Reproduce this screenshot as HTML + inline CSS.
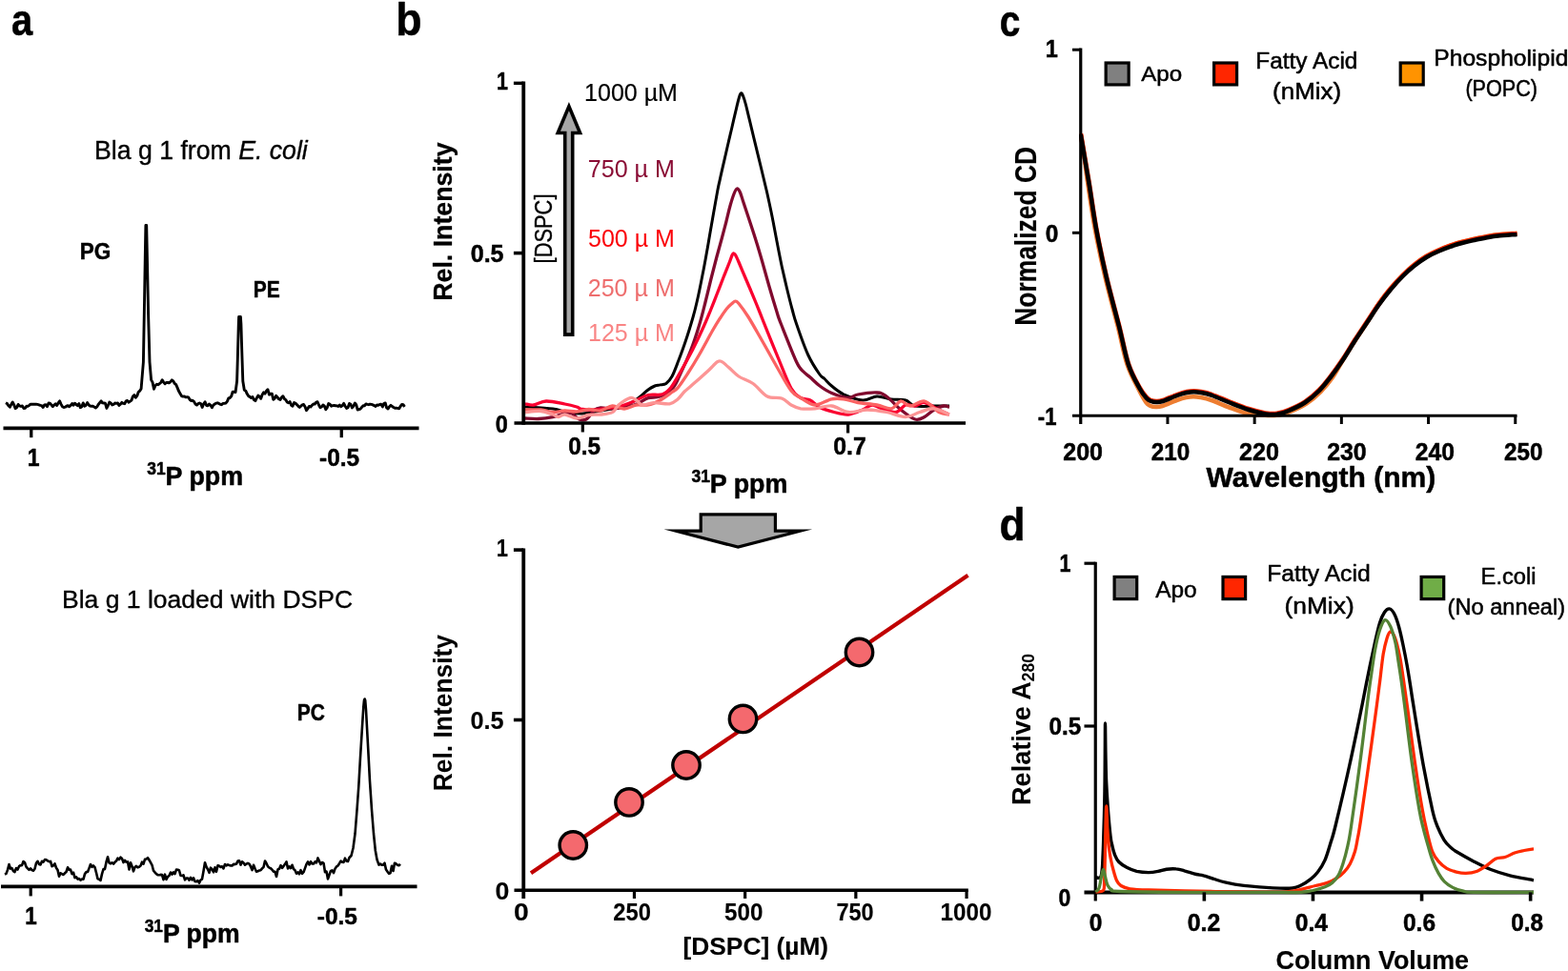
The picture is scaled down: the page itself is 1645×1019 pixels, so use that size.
<!DOCTYPE html>
<html lang="en">
<head>
<meta charset="utf-8">
<title>Figure: 31P NMR, CD and SEC of Bla g 1</title>
<style>
html,body{margin:0;padding:0;background:#fff;}
body{width:1645px;height:1019px;overflow:hidden;}
svg{display:block;font-family:"Liberation Sans",sans-serif;}
</style>
</head>
<body>
<svg width="1645" height="1019" viewBox="0 0 1645 1019">
<rect width="1645" height="1019" fill="#fff"/>
<g id="panel-a">
<line x1="3.50" y1="449.40" x2="439.50" y2="449.40" stroke="#000" stroke-width="3.80" stroke-linecap="butt"/>
<line x1="32.75" y1="449.40" x2="32.75" y2="459.20" stroke="#000" stroke-width="3.30" stroke-linecap="butt"/>
<line x1="358.25" y1="449.40" x2="358.25" y2="459.20" stroke="#000" stroke-width="3.30" stroke-linecap="butt"/>
<path d="M6.0 422.7L7.5 423.6L8.9 425.8L10.4 427.2L11.8 424.4L13.2 422.0L14.7 424.9L16.2 428.7L17.6 427.6L19.1 424.4L20.5 425.9L22.0 426.5L23.4 425.9L24.9 428.5L26.3 428.4L27.8 426.3L29.2 426.4L30.7 425.4L32.1 424.1L33.6 424.2L35.0 424.1L36.5 424.2L37.9 424.3L39.4 424.4L40.8 424.8L42.3 425.4L43.7 425.7L45.2 427.5L46.6 424.9L48.1 424.8L49.5 426.6L51.0 423.0L52.4 423.1L53.9 424.9L55.3 426.7L56.8 425.0L58.2 423.8L59.7 425.5L61.1 422.8L62.6 420.9L64.0 424.1L65.5 426.8L66.9 427.5L68.4 427.2L69.8 426.2L71.3 425.6L72.7 426.8L74.2 425.4L75.6 423.5L77.1 425.2L78.5 423.2L80.0 424.5L81.4 425.6L82.9 423.6L84.3 427.7L85.8 426.7L87.2 422.9L88.7 426.2L90.1 425.4L91.6 422.6L93.0 424.8L94.5 426.1L95.9 426.2L97.4 426.1L98.8 427.1L100.3 428.0L101.7 426.9L103.2 424.5L104.6 422.7L106.1 420.9L107.5 422.9L109.0 423.0L110.4 423.2L111.9 428.4L113.3 425.7L114.8 422.1L116.2 422.9L117.7 425.0L119.1 424.5L120.6 423.0L122.0 423.3L123.5 423.0L124.9 425.4L126.4 424.2L127.8 422.3L129.2 423.4L130.7 423.7L132.2 420.9L133.6 420.5L135.1 422.2L136.5 421.1L138.0 420.1L139.4 416.1L140.9 414.6L142.3 417.2L143.8 415.4L145.2 411.5L146.7 410.1L148.1 408.0L150.4 380.0L151.3 330.0L152.3 270.0L152.9 236.5L153.7 236.5L154.4 270.0L155.6 330.0L157.0 380.0L158.6 398.6L160.0 401.1L161.5 408.3L162.9 404.7L164.4 403.3L165.8 403.7L167.3 402.8L168.7 401.5L170.2 398.7L171.6 401.1L173.1 402.8L174.5 401.5L176.0 401.5L177.4 401.9L178.9 400.7L180.3 398.9L181.8 400.0L183.2 402.4L184.7 403.7L186.1 406.9L187.6 410.6L189.0 413.0L190.5 415.6L191.9 416.1L193.4 416.0L194.8 416.9L196.3 416.7L197.7 417.0L199.2 419.5L200.6 420.5L202.1 420.3L203.5 421.4L205.0 424.1L206.4 425.1L207.9 423.6L209.3 423.0L210.8 423.8L212.2 427.4L213.7 423.8L215.1 421.7L216.6 425.5L218.0 425.7L219.5 424.0L220.9 425.3L222.4 427.7L223.8 425.1L225.3 424.0L226.7 423.1L228.2 422.8L229.6 423.4L231.1 424.3L232.5 424.7L234.0 423.4L235.4 423.4L236.9 423.0L238.3 421.4L239.8 417.9L241.2 417.5L242.7 415.8L244.1 411.3L245.6 411.3L247.0 411.7L248.6 400.0L249.5 370.0L250.3 340.0L250.6 332.5L252.4 332.5L252.9 340.0L253.8 370.0L254.8 400.0L256.3 409.3L257.8 410.2L259.2 413.3L260.6 415.6L262.1 416.4L263.5 417.5L265.0 416.6L266.4 419.6L267.9 420.6L269.3 417.7L270.8 415.1L272.2 416.2L273.7 418.3L275.1 414.2L276.6 411.9L278.0 413.1L279.5 410.2L280.9 408.7L282.4 414.2L283.8 413.3L285.3 413.1L286.7 419.3L288.2 418.2L289.6 415.3L291.1 416.9L292.5 418.8L294.0 419.5L295.4 417.0L296.9 415.7L298.3 418.5L299.8 419.6L301.2 421.9L302.7 422.8L304.1 421.5L305.6 425.3L307.0 426.2L308.5 422.5L309.9 423.1L311.4 424.6L312.8 426.1L314.3 427.5L315.7 426.2L317.2 424.9L318.6 424.5L320.1 427.0L321.5 430.7L323.0 428.6L324.4 426.4L325.9 427.0L327.3 425.4L328.8 424.0L330.2 424.0L331.7 422.1L333.1 421.7L334.6 425.2L336.0 427.7L337.5 426.8L338.9 425.0L340.4 426.2L341.8 429.8L343.3 427.6L344.7 423.5L346.2 424.3L347.6 426.2L349.1 425.6L350.5 425.5L352.0 425.7L353.4 425.9L354.9 426.5L356.3 425.1L357.8 426.7L359.2 425.6L360.7 423.4L362.1 426.2L363.6 428.4L365.0 427.7L366.5 423.4L367.9 424.2L369.4 427.9L370.8 426.3L372.3 423.0L373.7 424.7L375.2 430.1L376.6 429.7L378.1 429.1L379.5 427.4L381.0 425.8L382.4 425.8L383.9 423.9L385.3 424.4L386.8 424.7L388.2 424.1L389.7 424.4L391.1 424.9L392.6 425.6L394.0 426.4L395.5 425.0L396.9 425.3L398.4 424.5L399.8 424.1L401.3 426.9L402.7 423.5L404.2 422.9L405.6 427.9L407.1 429.0L408.5 426.7L410.0 425.3L411.4 426.5L412.9 427.5L414.3 428.3L415.8 428.3L417.2 428.4L418.7 428.8L420.1 426.4L421.6 424.4L423.0 424.7L424.5 426.8" fill="none" stroke="#000" stroke-width="2.90" stroke-linejoin="round" stroke-linecap="butt"/>
<line x1="1.00" y1="930.40" x2="437.50" y2="930.40" stroke="#000" stroke-width="3.80" stroke-linecap="butt"/>
<line x1="32.20" y1="930.40" x2="32.20" y2="940.40" stroke="#000" stroke-width="3.20" stroke-linecap="butt"/>
<line x1="357.60" y1="930.40" x2="357.60" y2="940.40" stroke="#000" stroke-width="3.20" stroke-linecap="butt"/>
<path d="M5.0 917.6L6.5 916.9L8.0 912.9L9.5 907.1L11.0 911.6L12.5 911.1L14.0 914.1L15.5 915.1L17.0 911.0L18.5 912.5L20.0 909.2L21.5 908.2L23.0 908.1L24.5 904.0L26.0 905.3L27.5 909.6L29.0 911.4L30.5 912.8L32.0 911.3L33.5 913.1L35.0 913.7L36.5 911.8L38.0 905.7L39.5 903.8L41.0 906.9L42.5 907.4L44.0 903.8L45.5 904.6L47.0 902.1L48.5 902.3L50.0 903.4L51.5 904.2L53.0 903.9L54.5 909.2L56.0 908.4L57.5 906.4L59.0 910.7L60.5 913.0L62.0 919.7L63.5 916.3L65.0 917.2L66.5 918.0L68.0 916.3L69.5 915.0L71.0 910.3L72.5 912.7L74.0 912.6L75.5 917.1L77.0 915.7L78.5 921.1L80.0 920.3L81.5 922.6L83.0 922.0L84.5 923.7L86.0 922.5L87.5 922.6L89.0 917.1L90.5 915.1L92.0 915.0L93.5 911.1L95.0 907.0L96.5 909.9L98.0 908.5L99.5 910.2L101.0 915.8L102.5 922.3L104.0 922.7L105.5 923.9L107.0 917.1L108.5 912.0L110.0 912.1L111.5 904.7L113.0 899.3L114.5 905.4L116.0 906.3L117.5 905.3L119.0 906.6L120.5 904.8L122.0 903.6L123.5 900.6L125.0 902.1L126.5 899.7L128.0 901.0L129.5 905.1L131.0 902.8L132.5 904.8L134.0 904.4L135.5 912.5L137.0 905.3L138.5 909.0L140.0 914.3L141.5 910.0L143.0 908.9L144.5 910.4L146.0 909.8L147.5 908.6L149.0 904.6L150.5 906.7L152.0 901.8L153.5 901.4L155.0 900.2L156.5 902.5L158.0 905.1L159.5 907.8L161.0 913.7L162.5 915.5L164.0 917.1L165.5 918.1L167.0 918.2L168.5 917.9L170.0 918.1L171.5 923.2L173.0 917.7L174.5 922.9L176.0 920.1L177.5 918.9L179.0 915.5L180.5 917.6L182.0 915.3L183.5 917.1L185.0 912.6L186.5 912.7L188.0 913.5L189.5 918.8L191.0 919.1L192.5 918.3L194.0 923.3L195.5 921.6L197.0 921.6L198.5 923.7L200.0 920.8L201.5 923.4L203.0 921.3L204.5 924.9L206.0 925.3L207.5 924.1L209.0 926.7L210.5 923.5L212.0 922.6L213.5 914.3L215.0 905.2L216.5 909.6L218.0 912.3L219.5 915.8L221.0 910.7L222.5 912.2L224.0 915.3L225.5 910.3L227.0 914.8L228.5 908.2L230.0 908.7L231.5 910.0L233.0 909.3L234.5 911.4L236.0 907.0L237.5 908.3L239.0 907.4L240.5 908.0L242.0 908.4L243.5 908.5L245.0 906.9L246.5 907.1L248.0 906.6L249.5 903.6L251.0 903.2L252.5 907.6L254.0 904.3L255.5 905.6L257.0 907.7L258.5 906.7L260.0 905.9L261.5 906.6L263.0 909.4L264.5 913.1L266.0 907.8L267.5 911.5L269.0 914.8L270.5 914.3L272.0 913.5L273.5 913.3L275.0 911.4L276.5 910.0L278.0 903.5L279.5 906.0L281.0 909.2L282.5 910.6L284.0 911.3L285.5 912.7L287.0 914.6L288.5 914.8L290.0 920.0L291.5 912.4L293.0 911.7L294.5 908.2L296.0 910.9L297.5 908.9L299.0 906.8L300.5 904.3L302.0 911.4L303.5 909.3L305.0 911.1L306.5 907.8L308.0 912.0L309.5 913.3L311.0 916.7L312.5 915.4L314.0 917.3L315.5 913.2L317.0 916.8L318.5 915.2L320.0 911.1L321.5 906.9L323.0 904.4L324.5 907.5L326.0 904.2L327.5 906.4L329.0 906.4L330.5 904.3L332.0 905.3L333.5 900.4L335.0 903.8L336.5 907.1L338.0 905.0L339.5 905.8L341.0 915.3L342.5 914.5L344.0 922.4L345.5 918.0L347.0 913.9L348.5 913.4L350.0 916.1L351.5 911.7L353.0 909.6L354.5 908.4L356.0 906.2L357.5 903.7L359.0 904.7L360.5 904.9L362.0 900.7L363.5 903.8L365.0 904.0L366.5 900.0L368.5 898.0L370.5 890.0L372.5 875.0L374.5 850.0L376.3 825.0L378.0 795.0L380.0 762.5L381.3 742.0L382.0 735.0L382.6 733.5L383.2 735.0L384.0 745.0L386.3 787.5L388.0 820.0L390.0 850.0L392.0 875.0L393.8 892.5L395.5 902.0L397.5 907.6L399.0 906.6L400.5 907.8L402.0 907.6L403.5 905.7L405.0 912.6L406.5 914.7L408.0 916.7L409.5 916.2L411.0 908.8L412.5 914.0L414.0 905.7L415.5 906.5L417.0 907.7L418.5 908.3L420.0 906.8" fill="none" stroke="#000" stroke-width="2.60" stroke-linejoin="round" stroke-linecap="butt"/>
</g>
<g id="panel-b-top">
<clipPath id="cb"><rect x="550.5" y="60" width="446" height="390"/></clipPath>
<g clip-path="url(#cb)">
<path d="M551.0 427.0C555.8 427.3 572.7 428.1 580.0 429.0C587.3 429.9 589.8 431.8 595.0 432.6C600.2 433.4 605.2 434.3 611.0 434.0C616.8 433.7 622.7 432.3 630.0 431.0C637.3 429.7 648.7 428.0 655.0 426.0C661.3 424.0 663.8 421.8 668.0 419.0C672.2 416.2 676.8 411.3 680.0 409.0C683.2 406.7 684.9 405.9 687.0 405.0C689.1 404.1 690.5 404.3 692.5 403.9C694.5 403.5 696.7 404.0 698.8 402.5C700.8 401.0 702.8 399.0 705.0 395.0C707.2 391.0 709.3 385.0 711.7 378.8C714.1 372.5 716.9 365.1 719.4 357.5C722.0 349.9 725.0 339.9 727.0 333.0C729.0 326.1 729.6 323.6 731.3 316.0C733.1 308.4 735.4 296.8 737.2 287.5C739.1 278.2 740.5 269.8 742.3 260.0C744.0 250.2 745.9 238.8 747.7 228.8C749.4 218.8 751.6 206.7 752.8 200.0C754.1 193.3 753.8 195.0 755.2 188.8C756.5 182.5 759.1 171.5 761.2 162.5C763.2 153.5 765.7 143.1 767.6 135.0C769.4 126.9 771.2 119.2 772.5 113.8C773.8 108.2 774.7 104.7 775.5 102.0C776.3 99.3 776.8 98.0 777.5 97.8C778.2 97.5 778.7 98.5 779.5 100.5C780.3 102.5 781.4 105.7 782.5 110.0C783.6 114.3 784.7 119.4 786.4 126.2C788.0 133.1 790.4 142.7 792.4 151.2C794.5 159.8 796.9 169.4 798.8 177.5C800.8 185.6 802.6 193.1 804.2 200.0C805.8 206.9 806.9 212.1 808.3 218.8C809.7 225.4 811.2 233.1 812.5 240.0C813.8 246.9 815.0 253.3 816.3 260.0C817.6 266.7 818.8 272.9 820.3 280.0C821.9 287.1 823.7 295.0 825.5 302.5C827.3 310.0 829.5 318.8 831.2 325.0C832.9 331.2 832.8 332.1 835.6 340.0C838.3 347.9 843.8 363.8 847.8 372.5C851.8 381.2 856.7 388.3 859.6 392.5C862.5 396.7 862.9 395.4 865.0 397.5C867.1 399.6 869.2 402.3 872.5 405.0C875.8 407.7 879.6 411.2 885.0 413.8C890.4 416.2 899.2 419.6 905.0 420.0C910.8 420.4 915.0 416.2 920.0 416.0C925.0 415.8 930.0 418.3 935.0 419.0C940.0 419.7 945.8 418.8 950.0 420.0C954.2 421.2 955.0 425.0 960.0 426.0C965.0 427.0 974.0 426.0 980.0 426.0C986.0 426.0 993.3 426.0 996.0 426.0" fill="none" stroke="#000" stroke-width="3.00" stroke-linejoin="round" stroke-linecap="butt"/>
<path d="M551.0 439.0C553.3 439.1 560.2 439.7 565.0 439.5C569.8 439.3 575.5 438.5 580.0 437.6C584.5 436.7 588.7 434.6 592.0 434.0C595.3 433.4 597.4 433.0 600.0 434.0C602.6 435.0 605.0 439.0 607.5 440.0C610.0 441.0 612.2 441.7 615.0 440.0C617.8 438.3 621.5 432.0 624.0 430.0C626.5 428.0 627.0 428.2 630.0 428.0C633.0 427.8 637.8 428.9 642.0 428.8C646.2 428.7 650.7 428.3 655.0 427.5C659.3 426.7 663.8 425.6 668.0 424.0C672.2 422.4 675.9 418.9 680.0 417.6C684.1 416.3 688.1 417.8 692.5 416.0C696.9 414.2 702.7 410.7 706.2 406.8C709.8 402.8 710.7 399.0 713.7 392.5C716.8 386.0 721.5 375.8 724.7 367.5C728.0 359.2 730.7 350.8 733.2 342.5C735.8 334.2 737.8 325.8 739.9 317.5C742.0 309.2 744.0 300.4 746.0 292.5C748.0 284.6 749.9 277.1 751.8 270.0C753.7 262.9 755.6 256.2 757.3 250.0C758.9 243.8 760.3 238.7 761.8 233.0C763.2 227.3 764.6 220.9 766.0 216.0C767.4 211.1 768.8 206.5 770.0 203.5C771.2 200.5 772.2 198.2 773.2 198.0C774.3 197.8 775.4 199.6 776.5 202.0C777.6 204.4 778.1 206.8 780.0 212.5C781.9 218.2 785.4 228.8 787.8 236.0C790.2 243.2 792.2 249.5 794.2 256.0C796.2 262.5 797.7 267.7 799.8 275.0C801.9 282.3 804.3 291.3 806.8 300.0C809.3 308.7 812.8 320.3 814.9 327.0C817.0 333.7 815.9 331.2 819.4 340.0C822.9 348.8 831.8 371.7 835.7 380.0C839.7 388.3 840.5 387.3 842.9 390.0C845.3 392.7 847.2 393.5 850.0 396.0C852.8 398.5 856.2 402.2 860.0 405.0C863.8 407.8 867.5 410.4 872.5 412.5C877.5 414.6 885.4 417.2 890.0 417.5C894.6 417.8 895.0 414.9 900.0 414.0C905.0 413.1 915.0 411.7 920.0 412.0C925.0 412.3 925.8 413.0 930.0 416.0C934.2 419.0 940.0 426.0 945.0 430.0C950.0 434.0 955.8 438.8 960.0 440.0C964.2 441.2 966.7 439.2 970.0 437.5C973.3 435.8 976.7 431.9 980.0 430.0C983.3 428.1 987.3 426.4 990.0 426.0C992.7 425.6 995.0 427.2 996.0 427.5" fill="none" stroke="#800a2e" stroke-width="3.30" stroke-linejoin="round" stroke-linecap="butt"/>
<path d="M551.0 423.8C552.5 424.0 556.3 425.5 560.0 425.0C563.7 424.5 567.6 421.2 573.0 421.0C578.4 420.8 587.2 423.0 592.5 424.0C597.8 425.0 601.9 426.1 605.0 427.0C608.1 427.9 607.7 429.0 611.0 429.5C614.3 430.0 619.8 430.3 625.0 430.0C630.2 429.7 637.5 428.3 642.5 427.5C647.5 426.7 650.8 426.2 655.0 425.0C659.2 423.8 663.3 421.8 667.5 420.0C671.7 418.2 675.4 415.5 680.0 414.5C684.6 413.5 691.0 415.1 695.0 413.8C699.0 412.5 700.6 410.7 703.8 406.8C706.9 402.8 710.3 396.5 714.0 390.0C717.8 383.5 722.3 375.4 726.4 367.5C730.4 359.6 735.2 349.4 738.3 342.5C741.5 335.6 743.0 331.7 745.3 326.0C747.6 320.3 749.9 314.3 752.2 308.5C754.5 302.7 756.9 296.4 759.0 291.0C761.2 285.6 763.5 279.8 765.0 276.0C766.5 272.2 767.2 269.7 768.0 268.0C768.8 266.3 768.9 265.9 769.5 265.8C770.1 265.7 770.6 266.0 771.5 267.5C772.4 269.0 773.4 271.2 775.0 275.0C776.6 278.8 779.3 285.2 781.3 290.0C783.4 294.8 785.4 299.5 787.3 304.0C789.2 308.5 790.6 311.8 792.7 317.0C794.9 322.2 796.0 325.3 799.9 335.0C803.8 344.7 811.1 362.9 816.1 375.0C821.2 387.1 826.0 400.4 830.0 407.5C834.0 414.6 836.7 415.4 840.0 417.5C843.3 419.6 846.7 418.3 850.0 420.0C853.3 421.7 855.8 425.4 860.0 427.5C864.2 429.6 870.0 431.2 875.0 432.5C880.0 433.8 885.0 435.4 890.0 435.0C895.0 434.6 900.8 431.7 905.0 430.0C909.2 428.3 911.7 425.2 915.0 425.0C918.3 424.8 920.8 427.5 925.0 428.8C929.2 430.0 935.8 433.1 940.0 432.5C944.2 431.9 946.7 426.1 950.0 425.0C953.3 423.9 956.7 426.4 960.0 426.0C963.3 425.6 965.8 421.8 970.0 422.5C974.2 423.2 980.7 427.9 985.0 430.0C989.3 432.1 994.2 434.2 996.0 435.0" fill="none" stroke="#fa0030" stroke-width="3.30" stroke-linejoin="round" stroke-linecap="butt"/>
<path d="M551.0 430.0C553.8 430.0 562.7 429.6 567.5 430.0C572.3 430.4 575.8 432.3 580.0 432.5C584.2 432.7 588.3 431.1 592.5 431.0C596.7 430.9 600.8 432.2 605.0 432.0C609.2 431.8 613.3 429.7 617.5 429.5C621.7 429.3 625.8 431.6 630.0 431.0C634.2 430.4 638.3 426.3 642.5 426.0C646.7 425.7 650.8 429.2 655.0 429.0C659.2 428.8 663.3 425.7 667.5 425.0C671.7 424.3 675.8 425.8 680.0 425.0C684.2 424.2 688.3 422.2 692.5 420.0C696.7 417.8 701.9 413.7 705.0 411.5C708.1 409.3 708.5 409.9 711.2 406.8C714.0 403.6 717.5 398.2 721.2 392.5C724.9 386.8 729.1 380.0 733.4 372.5C737.7 365.0 743.6 353.9 747.2 347.5C750.9 341.1 753.0 337.8 755.4 334.0C757.9 330.2 759.9 327.1 762.0 324.5C764.1 321.9 766.4 319.9 768.0 318.5C769.6 317.1 770.3 316.2 771.5 316.2C772.7 316.2 772.8 315.8 775.0 318.5C777.2 321.2 780.9 326.0 785.0 332.5C789.1 339.0 794.5 348.8 799.5 357.5C804.5 366.2 809.9 376.2 815.0 385.0C820.1 393.8 825.8 404.6 830.0 410.0C834.2 415.4 835.8 415.0 840.0 417.5C844.2 420.0 849.6 424.8 855.0 425.0C860.4 425.2 867.5 419.8 872.5 418.8C877.5 417.7 880.4 418.1 885.0 418.8C889.6 419.4 894.2 421.5 900.0 422.5C905.8 423.5 914.2 424.0 920.0 425.0C925.8 426.0 930.8 429.4 935.0 428.8C939.2 428.1 941.7 421.5 945.0 421.0C948.3 420.5 950.8 426.0 955.0 426.0C959.2 426.0 965.0 419.9 970.0 421.0C975.0 422.1 980.7 430.2 985.0 432.5C989.3 434.8 994.2 434.6 996.0 435.0" fill="none" stroke="#fb6262" stroke-width="3.30" stroke-linejoin="round" stroke-linecap="butt"/>
<path d="M551.0 432.6C553.8 432.4 562.7 431.1 567.5 431.5C572.3 431.9 576.9 434.0 580.0 435.0C583.1 436.0 583.9 437.5 586.0 437.5C588.1 437.5 589.3 434.8 592.5 435.0C595.7 435.2 600.8 438.9 605.0 439.0C609.2 439.1 613.3 436.2 617.5 435.5C621.7 434.8 625.8 435.5 630.0 435.0C634.2 434.5 639.3 434.3 642.5 432.6C645.7 430.9 645.9 427.5 649.0 425.0C652.1 422.5 657.9 418.4 661.0 417.6C664.1 416.8 665.3 418.8 667.5 420.0C669.7 421.2 670.9 424.6 674.0 425.0C677.1 425.4 681.2 422.8 686.0 422.6C690.8 422.4 698.3 424.4 702.5 423.8C706.7 423.2 708.4 421.1 711.0 419.0C713.6 416.9 715.7 413.3 718.0 411.0C720.3 408.7 722.2 407.5 725.0 405.0C727.8 402.5 731.7 399.2 735.0 396.2C738.3 393.3 742.1 389.9 744.6 387.5C747.1 385.1 748.6 383.3 750.0 382.0C751.4 380.7 752.1 380.0 753.0 379.5C753.9 379.0 754.4 378.7 755.2 378.8C756.0 378.8 756.4 378.8 758.0 380.0C759.6 381.2 762.2 383.5 765.0 386.0C767.8 388.5 770.8 392.2 775.0 395.0C779.2 397.8 785.0 399.0 790.0 402.5C795.0 406.0 800.0 413.4 805.0 416.0C810.0 418.6 815.8 416.5 820.0 418.0C824.2 419.5 826.7 423.2 830.0 425.0C833.3 426.8 835.8 428.1 840.0 428.8C844.2 429.4 849.6 429.2 855.0 428.8C860.4 428.3 866.7 425.4 872.5 426.0C878.3 426.6 883.8 431.8 890.0 432.5C896.2 433.2 903.3 430.0 910.0 430.0C916.7 430.0 923.3 431.2 930.0 432.5C936.7 433.8 944.2 437.5 950.0 437.5C955.8 437.5 960.0 434.0 965.0 432.5C970.0 431.0 974.8 428.3 980.0 428.8C985.2 429.2 993.3 434.0 996.0 435.0" fill="none" stroke="#fc9595" stroke-width="3.30" stroke-linejoin="round" stroke-linecap="butt"/>
</g>
<path d="M592.7 351.1V139.45H585.2L596.9 111.56L608.55 139.45H600.7V351.1Z" fill="#a6a6a6" stroke="#000" stroke-width="3.6" stroke-linejoin="miter" stroke-miterlimit="10"/>
<line x1="549.25" y1="85.60" x2="549.25" y2="445.80" stroke="#000" stroke-width="3.80" stroke-linecap="butt"/>
<line x1="539.50" y1="444.00" x2="1013.00" y2="444.00" stroke="#000" stroke-width="3.60" stroke-linecap="butt"/>
<line x1="538.90" y1="87.30" x2="549.25" y2="87.30" stroke="#000" stroke-width="3.40" stroke-linecap="butt"/>
<line x1="538.90" y1="265.60" x2="549.25" y2="265.60" stroke="#000" stroke-width="3.60" stroke-linecap="butt"/>
<line x1="611.30" y1="444.00" x2="611.30" y2="453.50" stroke="#000" stroke-width="3.20" stroke-linecap="butt"/>
<line x1="889.60" y1="444.00" x2="889.60" y2="454.50" stroke="#000" stroke-width="3.20" stroke-linecap="butt"/>
</g>
<g id="panel-b-bot">
<path d="M735.2 539.8H813.4V557.2H839.6L774.3 574.15L709 557.2H735.2Z" fill="#a6a6a6" stroke="#000" stroke-width="3.2" stroke-linejoin="miter" stroke-miterlimit="30"/>
<line x1="557.00" y1="916.25" x2="1015.50" y2="603.75" stroke="#c00000" stroke-width="4.20" stroke-linecap="butt"/>
<circle cx="601.25" cy="887.00" r="14.2" fill="#f4696e" stroke="#000" stroke-width="3.4"/>
<circle cx="660.00" cy="841.90" r="14.2" fill="#f4696e" stroke="#000" stroke-width="3.4"/>
<circle cx="720.00" cy="803.00" r="14.2" fill="#f4696e" stroke="#000" stroke-width="3.4"/>
<circle cx="779.50" cy="754.40" r="14.2" fill="#f4696e" stroke="#000" stroke-width="3.4"/>
<circle cx="901.50" cy="684.50" r="14.2" fill="#f4696e" stroke="#000" stroke-width="3.4"/>
<line x1="549.25" y1="575.40" x2="549.25" y2="943.00" stroke="#000" stroke-width="3.80" stroke-linecap="butt"/>
<line x1="539.50" y1="934.25" x2="1015.80" y2="934.25" stroke="#000" stroke-width="3.60" stroke-linecap="butt"/>
<line x1="538.90" y1="577.10" x2="549.25" y2="577.10" stroke="#000" stroke-width="3.60" stroke-linecap="butt"/>
<line x1="538.90" y1="755.50" x2="549.25" y2="755.50" stroke="#000" stroke-width="3.60" stroke-linecap="butt"/>
<line x1="665.45" y1="934.25" x2="665.45" y2="943.00" stroke="#000" stroke-width="3.20" stroke-linecap="butt"/>
<line x1="781.65" y1="934.25" x2="781.65" y2="943.00" stroke="#000" stroke-width="3.20" stroke-linecap="butt"/>
<line x1="897.85" y1="934.25" x2="897.85" y2="943.00" stroke="#000" stroke-width="3.20" stroke-linecap="butt"/>
<line x1="1014.05" y1="934.25" x2="1014.05" y2="943.00" stroke="#000" stroke-width="3.20" stroke-linecap="butt"/>
</g>
<g id="panel-c">
<clipPath id="cc"><rect x="1132" y="100" width="460" height="345"/></clipPath>
<g clip-path="url(#cc)">
<path d="M1133.8 141.0C1134.3 144.2 1135.7 151.4 1137.0 160.0C1138.3 168.6 1139.3 179.2 1141.3 192.5C1143.3 205.8 1145.8 223.8 1148.8 240.0C1151.8 256.2 1155.3 272.9 1159.3 290.0C1163.3 307.1 1168.9 327.1 1172.8 342.5C1176.7 357.9 1178.9 371.4 1182.6 382.5C1186.3 393.6 1191.7 402.7 1195.0 409.3C1198.3 416.0 1200.5 419.6 1202.5 422.3C1204.5 425.1 1205.3 425.2 1207.0 426.0C1208.7 426.8 1210.4 427.0 1212.5 427.0C1214.6 427.0 1215.8 427.2 1219.5 426.0C1223.2 424.8 1230.3 421.5 1234.5 420.0C1238.7 418.5 1241.6 417.6 1244.5 417.0C1247.4 416.4 1249.5 416.2 1252.0 416.2C1254.5 416.2 1256.3 416.4 1259.5 417.0C1262.7 417.6 1266.0 418.2 1271.0 420.0C1276.0 421.8 1283.1 425.1 1289.5 427.5C1295.9 429.9 1303.2 432.8 1309.5 434.2C1315.8 435.5 1322.7 435.4 1327.0 435.8C1331.3 436.1 1333.1 436.0 1335.5 436.0C1337.9 436.0 1338.6 436.2 1341.5 435.6C1344.4 435.0 1348.2 434.3 1353.0 432.2C1357.8 430.2 1365.1 427.0 1370.5 423.5C1375.9 420.0 1380.9 415.6 1385.5 411.0C1390.1 406.4 1394.1 401.6 1398.0 396.0C1401.9 390.4 1405.1 383.9 1409.0 377.5C1412.9 371.1 1417.3 364.0 1421.5 357.5C1425.7 351.0 1429.8 345.2 1434.0 338.8C1438.2 332.3 1442.3 324.8 1446.5 318.8C1450.7 312.8 1454.8 307.6 1459.0 302.6C1463.2 297.6 1467.3 293.0 1471.5 288.8C1475.7 284.6 1479.8 280.9 1484.0 277.6C1488.2 274.2 1492.3 271.3 1496.5 268.8C1500.7 266.3 1504.8 264.4 1509.0 262.6C1513.2 260.7 1517.3 259.0 1521.5 257.6C1525.7 256.1 1529.8 254.9 1534.0 253.8C1538.2 252.7 1542.3 251.7 1546.5 250.8C1550.7 249.9 1554.8 249.0 1559.0 248.3C1563.2 247.6 1566.1 247.0 1571.5 246.4C1576.9 245.8 1588.2 245.0 1591.5 244.7" fill="none" stroke="#ed7d31" stroke-width="4.60" stroke-linejoin="round" stroke-linecap="butt"/>
<path d="M1133.8 140.2C1134.3 143.4 1135.5 150.6 1137.0 159.2C1138.5 167.8 1140.3 178.4 1142.5 191.7C1144.7 205.0 1147.0 222.9 1150.0 239.2C1153.0 255.4 1156.5 272.1 1160.5 289.2C1164.5 306.3 1170.1 326.3 1174.0 341.7C1177.9 357.1 1180.2 370.9 1183.8 381.7C1187.4 392.5 1192.3 400.8 1195.5 406.7C1198.7 412.6 1201.0 414.9 1203.0 417.2C1205.0 419.4 1205.8 419.5 1207.5 420.2C1209.2 420.9 1210.9 421.2 1213.0 421.2C1215.1 421.2 1216.3 421.4 1220.0 420.2C1223.7 419.0 1230.8 415.7 1235.0 414.2C1239.2 412.7 1242.1 411.8 1245.0 411.2C1247.9 410.6 1250.0 410.4 1252.5 410.4C1255.0 410.4 1256.8 410.6 1260.0 411.2C1263.2 411.8 1266.5 412.4 1271.5 414.2C1276.5 415.9 1283.6 419.2 1290.0 421.7C1296.4 424.2 1303.8 427.2 1310.0 429.2C1316.2 431.2 1323.5 432.9 1327.5 433.7C1331.5 434.5 1331.9 434.2 1334.0 434.2C1336.1 434.2 1337.1 434.4 1340.0 433.8C1342.9 433.2 1346.7 432.5 1351.5 430.4C1356.3 428.4 1363.6 425.2 1369.0 421.7C1374.4 418.2 1379.4 413.8 1384.0 409.2C1388.6 404.6 1392.3 399.6 1396.5 394.2C1400.7 388.8 1404.8 382.9 1409.0 376.7C1413.2 370.4 1417.3 363.2 1421.5 356.7C1425.7 350.2 1429.8 344.2 1434.0 337.9C1438.2 331.7 1442.3 325.0 1446.5 319.2C1450.7 313.4 1454.8 307.9 1459.0 302.9C1463.2 297.9 1467.3 293.4 1471.5 289.2C1475.7 285.0 1479.8 281.3 1484.0 277.9C1488.2 274.6 1492.3 271.7 1496.5 269.2C1500.7 266.7 1504.8 264.8 1509.0 262.9C1513.2 261.1 1517.3 259.4 1521.5 257.9C1525.7 256.5 1529.8 255.3 1534.0 254.2C1538.2 253.1 1542.3 252.1 1546.5 251.2C1550.7 250.3 1554.8 249.4 1559.0 248.7C1563.2 248.0 1566.1 247.4 1571.5 246.8C1576.9 246.2 1588.2 245.4 1591.5 245.1" fill="none" stroke="#ff2a00" stroke-width="4.90" stroke-linejoin="round" stroke-linecap="butt"/>
<path d="M1133.8 141.0C1134.3 144.2 1135.5 151.4 1137.0 160.0C1138.5 168.6 1140.3 179.2 1142.5 192.5C1144.7 205.8 1147.0 223.8 1150.0 240.0C1153.0 256.2 1156.5 272.9 1160.5 290.0C1164.5 307.1 1170.1 327.1 1174.0 342.5C1177.9 357.9 1180.2 371.7 1183.8 382.5C1187.4 393.3 1192.3 401.6 1195.5 407.5C1198.7 413.4 1201.0 415.8 1203.0 418.0C1205.0 420.2 1205.8 420.3 1207.5 421.0C1209.2 421.7 1210.9 422.0 1213.0 422.0C1215.1 422.0 1216.3 422.2 1220.0 421.0C1223.7 419.8 1230.8 416.5 1235.0 415.0C1239.2 413.5 1242.1 412.6 1245.0 412.0C1247.9 411.4 1250.0 411.2 1252.5 411.2C1255.0 411.2 1256.8 411.4 1260.0 412.0C1263.2 412.6 1266.5 413.2 1271.5 415.0C1276.5 416.8 1283.6 420.0 1290.0 422.5C1296.4 425.0 1303.8 428.0 1310.0 430.0C1316.2 432.0 1323.5 433.7 1327.5 434.5C1331.5 435.3 1331.9 435.0 1334.0 435.0C1336.1 435.0 1337.1 435.2 1340.0 434.6C1342.9 434.0 1346.7 433.3 1351.5 431.2C1356.3 429.2 1363.6 426.0 1369.0 422.5C1374.4 419.0 1379.4 414.6 1384.0 410.0C1388.6 405.4 1392.3 400.4 1396.5 395.0C1400.7 389.6 1404.8 383.8 1409.0 377.5C1413.2 371.2 1417.3 364.0 1421.5 357.5C1425.7 351.0 1429.8 345.0 1434.0 338.8C1438.2 332.5 1442.3 325.8 1446.5 320.0C1450.7 314.2 1454.8 308.8 1459.0 303.8C1463.2 298.8 1467.3 294.2 1471.5 290.0C1475.7 285.8 1479.8 282.1 1484.0 278.8C1488.2 275.4 1492.3 272.5 1496.5 270.0C1500.7 267.5 1504.8 265.6 1509.0 263.8C1513.2 261.9 1517.3 260.2 1521.5 258.8C1525.7 257.3 1529.8 256.1 1534.0 255.0C1538.2 253.9 1542.3 252.9 1546.5 252.0C1550.7 251.1 1554.8 250.2 1559.0 249.5C1563.2 248.8 1566.1 248.2 1571.5 247.6C1576.9 247.0 1588.2 246.2 1591.5 245.9" fill="none" stroke="#000" stroke-width="4.50" stroke-linejoin="round" stroke-linecap="butt"/>
</g>
<line x1="1133.75" y1="50.60" x2="1133.75" y2="445.00" stroke="#000" stroke-width="3.20" stroke-linecap="butt"/>
<line x1="1125.00" y1="436.25" x2="1591.50" y2="436.25" stroke="#000" stroke-width="3.20" stroke-linecap="butt"/>
<line x1="1125.00" y1="52.20" x2="1133.75" y2="52.20" stroke="#000" stroke-width="3.00" stroke-linecap="butt"/>
<line x1="1125.00" y1="244.30" x2="1133.75" y2="244.30" stroke="#000" stroke-width="3.00" stroke-linecap="butt"/>
<line x1="1224.95" y1="436.25" x2="1224.95" y2="445.00" stroke="#000" stroke-width="3.00" stroke-linecap="butt"/>
<line x1="1316.15" y1="436.25" x2="1316.15" y2="445.00" stroke="#000" stroke-width="3.00" stroke-linecap="butt"/>
<line x1="1407.35" y1="436.25" x2="1407.35" y2="445.00" stroke="#000" stroke-width="3.00" stroke-linecap="butt"/>
<line x1="1498.55" y1="436.25" x2="1498.55" y2="445.00" stroke="#000" stroke-width="3.00" stroke-linecap="butt"/>
<line x1="1589.75" y1="436.25" x2="1589.75" y2="445.00" stroke="#000" stroke-width="3.00" stroke-linecap="butt"/>
<rect x="1160.15" y="66.00" width="24.0" height="22.9" fill="#808080" stroke="#000" stroke-width="3.2"/>
<rect x="1273.60" y="66.00" width="24.0" height="22.9" fill="#ff2600" stroke="#000" stroke-width="3.2"/>
<rect x="1469.20" y="66.00" width="24.0" height="22.9" fill="#ff9300" stroke="#000" stroke-width="3.2"/>
</g>
<g id="panel-d">
<clipPath id="cd"><rect x="1148" y="600" width="461.5" height="340"/></clipPath>
<line x1="1149.25" y1="589.70" x2="1149.25" y2="945.60" stroke="#000" stroke-width="3.20" stroke-linecap="butt"/>
<line x1="1137.50" y1="936.40" x2="1609.00" y2="936.40" stroke="#000" stroke-width="4.00" stroke-linecap="butt"/>
<g clip-path="url(#cd)">
<path d="M1149.5 920.8C1150.3 920.8 1153.4 922.1 1154.5 920.6C1155.6 919.1 1155.8 916.3 1156.3 912.0C1156.8 907.7 1156.9 900.8 1157.2 895.0C1157.5 889.2 1157.6 885.0 1157.8 877.5C1158.1 870.0 1158.4 859.6 1158.6 850.0C1158.8 840.4 1159.0 830.0 1159.1 820.0C1159.2 810.0 1159.2 800.2 1159.3 790.0C1159.4 779.8 1159.4 759.0 1159.5 759.0C1159.6 759.0 1159.7 779.8 1159.9 790.0C1160.1 800.2 1160.2 810.8 1160.6 820.0C1161.0 829.2 1161.4 835.4 1162.1 845.0C1162.8 854.6 1164.2 870.5 1165.0 877.5C1165.8 884.5 1166.0 883.8 1166.7 887.0C1167.5 890.2 1168.3 894.1 1169.5 897.0C1170.7 899.9 1171.6 902.2 1173.8 904.5C1175.9 906.8 1179.4 908.9 1182.5 910.5C1185.6 912.1 1188.8 913.5 1192.5 914.4C1196.2 915.2 1201.2 915.6 1205.0 915.6C1208.8 915.6 1211.9 915.0 1215.0 914.4C1218.1 913.8 1220.6 912.7 1223.8 912.2C1226.9 911.8 1230.6 911.6 1233.8 911.9C1236.9 912.1 1239.0 912.8 1242.5 913.8C1246.0 914.7 1251.7 916.7 1255.0 917.5C1258.3 918.3 1259.4 917.9 1262.5 918.8C1265.6 919.6 1269.8 921.2 1273.8 922.5C1277.7 923.8 1281.0 925.1 1286.2 926.2C1291.5 927.4 1296.8 928.5 1305.0 929.4C1313.2 930.3 1327.1 931.5 1335.6 931.9C1344.1 932.3 1351.1 932.5 1356.0 932.0C1360.9 931.5 1361.8 930.6 1365.0 929.0C1368.2 927.4 1372.1 924.9 1375.0 922.6C1377.9 920.3 1380.1 918.3 1382.6 915.0C1385.1 911.7 1387.8 907.6 1390.0 902.6C1392.2 897.6 1394.0 891.1 1395.8 885.0C1397.7 878.9 1397.9 879.6 1401.2 866.0C1404.5 852.4 1411.1 824.5 1415.7 803.5C1420.4 782.5 1425.7 756.0 1429.0 740.0C1432.2 724.0 1433.2 718.2 1435.4 707.5C1437.6 696.8 1440.1 685.0 1442.1 676.0C1444.1 667.0 1445.8 659.3 1447.5 653.8C1449.2 648.2 1450.8 645.0 1452.5 642.5C1454.2 640.0 1455.8 638.7 1457.5 638.9C1459.2 639.1 1460.8 640.6 1462.5 643.8C1464.2 646.9 1466.0 652.1 1467.5 657.5C1469.0 662.9 1470.4 669.3 1471.8 676.0C1473.2 682.7 1474.7 690.2 1476.0 697.5C1477.3 704.8 1478.6 712.9 1479.7 720.0C1480.8 727.1 1480.5 726.1 1482.8 740.0C1485.0 753.9 1490.0 785.2 1493.3 803.5C1496.7 821.8 1500.4 839.5 1502.7 850.0C1505.1 860.5 1505.6 861.1 1507.6 866.3C1509.7 871.5 1512.6 877.5 1514.9 881.3C1517.2 885.0 1519.2 886.7 1521.4 888.8C1523.5 890.9 1523.8 891.3 1527.9 893.8C1532.0 896.3 1540.0 900.8 1546.0 903.9C1552.0 907.0 1557.7 910.0 1564.0 912.5C1570.3 915.0 1576.5 916.9 1584.0 918.8C1591.5 920.6 1604.8 922.9 1609.0 923.8" fill="none" stroke="#000" stroke-width="3.40" stroke-linejoin="round" stroke-linecap="butt"/>
<path d="M1149.5 936.0C1150.8 935.8 1156.0 936.3 1157.5 934.5C1159.0 932.7 1158.3 930.8 1158.6 925.0C1158.9 919.2 1159.1 909.2 1159.3 900.0C1159.5 890.8 1159.7 879.0 1159.9 870.0C1160.1 861.0 1160.4 846.0 1160.8 846.0C1161.1 846.0 1161.3 862.7 1161.8 870.0C1162.3 877.3 1162.9 884.6 1163.5 890.0C1164.1 895.4 1164.8 898.7 1165.5 902.5C1166.2 906.3 1167.0 909.4 1168.0 913.0C1169.0 916.6 1170.2 921.2 1171.5 924.0C1172.8 926.8 1173.7 928.0 1176.0 929.5C1178.3 931.0 1180.7 932.0 1185.5 932.8C1190.3 933.5 1195.5 933.7 1205.0 934.0C1214.5 934.3 1226.7 934.5 1242.5 934.8C1258.3 935.1 1282.1 935.8 1300.0 936.0C1317.9 936.2 1339.2 936.2 1350.0 935.8C1360.8 935.3 1360.0 934.3 1365.0 933.3C1370.0 932.2 1375.4 930.6 1380.0 929.5C1384.6 928.4 1388.8 927.8 1392.6 926.4C1396.4 925.0 1399.7 923.3 1402.6 921.4C1405.5 919.5 1407.8 917.6 1410.1 915.1C1412.4 912.6 1414.5 910.0 1416.4 906.4C1418.3 902.8 1420.0 898.4 1421.4 893.8C1422.8 889.2 1423.5 884.0 1424.5 878.8C1425.5 873.6 1425.4 875.0 1427.3 862.5C1429.2 850.0 1432.9 823.9 1435.7 803.5C1438.6 783.1 1442.4 755.0 1444.4 740.0C1446.4 725.0 1446.6 722.7 1447.8 713.8C1448.9 704.8 1450.0 693.5 1451.2 686.2C1452.5 679.0 1453.8 673.9 1455.0 670.0C1456.2 666.1 1457.3 663.0 1458.8 663.0C1460.2 663.0 1462.1 665.5 1463.8 670.0C1465.4 674.5 1467.3 682.9 1468.8 690.0C1470.2 697.1 1470.9 703.3 1472.3 712.5C1473.6 721.7 1474.8 729.8 1476.9 745.0C1479.0 760.2 1482.3 786.0 1484.9 803.5C1487.4 821.0 1490.1 838.1 1492.3 850.0C1494.4 861.9 1495.9 867.7 1497.6 875.0C1499.4 882.3 1500.9 889.0 1502.8 893.8C1504.7 898.6 1506.6 901.0 1509.1 903.9C1511.6 906.8 1514.7 909.5 1517.8 911.4C1520.9 913.3 1524.6 914.3 1527.9 915.1C1531.2 915.9 1534.4 916.5 1537.9 916.4C1541.4 916.3 1545.5 915.8 1549.0 914.5C1552.5 913.2 1555.7 911.0 1559.0 908.8C1562.3 906.5 1565.7 902.8 1569.0 901.2C1572.3 899.7 1575.7 900.5 1579.0 899.5C1582.3 898.5 1585.7 896.2 1589.0 895.0C1592.3 893.8 1595.7 893.2 1599.0 892.5C1602.3 891.8 1607.3 891.0 1609.0 890.8" fill="none" stroke="#ff2a00" stroke-width="3.30" stroke-linejoin="round" stroke-linecap="butt"/>
<path d="M1149.5 936.0C1150.1 935.3 1152.0 934.7 1153.0 932.0C1154.0 929.3 1154.8 923.2 1155.5 920.0C1156.2 916.8 1156.8 912.5 1157.5 912.5C1158.2 912.5 1158.8 917.2 1159.5 920.0C1160.2 922.8 1160.9 926.8 1162.0 929.0C1163.1 931.2 1163.8 932.4 1166.0 933.5C1168.2 934.6 1161.0 935.0 1175.0 935.5C1189.0 936.0 1222.5 936.2 1250.0 936.4C1277.5 936.5 1320.8 936.4 1340.0 936.4C1359.2 936.4 1358.7 936.7 1365.0 936.4C1371.3 936.1 1373.4 935.4 1377.6 934.5C1381.8 933.6 1386.7 932.1 1390.0 930.8C1393.3 929.4 1395.3 928.4 1397.6 926.4C1399.9 924.4 1402.0 922.2 1403.9 918.9C1405.8 915.6 1407.2 911.6 1408.9 906.4C1410.6 901.2 1412.5 894.0 1413.9 887.6C1415.3 881.2 1415.3 882.0 1417.4 868.0C1419.4 854.0 1423.6 824.8 1426.4 803.5C1429.3 782.2 1432.4 755.0 1434.3 740.0C1436.2 725.0 1436.4 723.3 1437.8 713.8C1439.2 704.2 1440.9 691.2 1442.5 682.5C1444.1 673.8 1445.7 666.6 1447.5 661.2C1449.3 655.9 1451.2 651.2 1453.1 650.6C1455.0 650.0 1457.0 653.6 1458.8 657.5C1460.5 661.4 1462.3 667.5 1463.8 673.8C1465.2 680.0 1466.0 687.3 1467.2 695.0C1468.4 702.7 1469.8 711.7 1470.9 720.0C1472.1 728.3 1472.4 731.1 1474.2 745.0C1476.0 758.9 1479.2 786.0 1481.7 803.5C1484.2 821.0 1487.1 839.1 1489.0 850.0C1490.9 860.9 1491.5 862.5 1493.1 868.8C1494.6 875.1 1496.6 882.0 1498.2 887.6C1499.8 893.2 1501.0 897.8 1502.8 902.6C1504.6 907.4 1507.0 912.6 1509.1 916.4C1511.2 920.1 1512.8 922.6 1515.3 925.1C1517.8 927.6 1520.8 929.7 1524.1 931.4C1527.4 933.1 1531.8 934.4 1535.4 935.2C1539.1 936.0 1533.7 936.2 1546.0 936.4C1558.3 936.6 1598.5 936.4 1609.0 936.4" fill="none" stroke="#548235" stroke-width="3.30" stroke-linejoin="round" stroke-linecap="butt"/>
</g>
<line x1="1137.50" y1="591.20" x2="1149.25" y2="591.20" stroke="#000" stroke-width="3.20" stroke-linecap="butt"/>
<line x1="1137.50" y1="762.00" x2="1149.25" y2="762.00" stroke="#000" stroke-width="3.20" stroke-linecap="butt"/>
<line x1="1263.35" y1="936.40" x2="1263.35" y2="945.60" stroke="#000" stroke-width="3.60" stroke-linecap="butt"/>
<line x1="1377.45" y1="936.40" x2="1377.45" y2="945.60" stroke="#000" stroke-width="3.60" stroke-linecap="butt"/>
<line x1="1491.55" y1="936.40" x2="1491.55" y2="945.60" stroke="#000" stroke-width="3.60" stroke-linecap="butt"/>
<line x1="1605.65" y1="936.40" x2="1605.65" y2="945.60" stroke="#000" stroke-width="3.60" stroke-linecap="butt"/>
<rect x="1169.10" y="605.40" width="23.6" height="23.2" fill="#808080" stroke="#000" stroke-width="3.2"/>
<rect x="1283.00" y="605.40" width="23.6" height="23.2" fill="#ff2600" stroke="#000" stroke-width="3.2"/>
<rect x="1491.10" y="605.40" width="23.6" height="23.2" fill="#70ad47" stroke="#000" stroke-width="3.2"/>
</g>
<g id="labels">
<text transform="translate(11.92 37.15) scale(0.8560 1)" font-size="46.67" font-weight="bold" fill="#000" stroke="#000" stroke-width="0.50" stroke-linejoin="round">a</text>
<text transform="translate(415.31 36.75) scale(0.9449 1)" font-size="47.26" font-weight="bold" fill="#000" stroke="#000" stroke-width="0.50" stroke-linejoin="round">b</text>
<text transform="translate(1048.66 37.75) scale(0.8578 1)" font-size="45.37" font-weight="bold" fill="#000" stroke="#000" stroke-width="0.50" stroke-linejoin="round">c</text>
<text transform="translate(1048.45 567.35) scale(0.9045 1)" font-size="48.97" font-weight="bold" fill="#000" stroke="#000" stroke-width="0.50" stroke-linejoin="round">d</text>
<text transform="translate(99.04 166.82) scale(0.9976 1)" font-size="26.74" font-weight="normal" fill="#000" stroke="#000" stroke-width="0.35" stroke-linejoin="round">Bla g 1 from <tspan font-style="italic">E. coli</tspan></text>
<text transform="translate(83.65 272.25) scale(0.9284 1)" font-size="24.29" font-weight="bold" fill="#000" stroke="#000" stroke-width="0.50" stroke-linejoin="round">PG</text>
<text transform="translate(265.74 311.75) scale(0.8522 1)" font-size="24.64" font-weight="bold" fill="#000" stroke="#000" stroke-width="0.50" stroke-linejoin="round">PE</text>
<text transform="translate(28.85 488.75) scale(0.9058 1)" font-size="25.36" font-weight="bold" fill="#000" stroke="#000" stroke-width="0.50" stroke-linejoin="round">1</text>
<text transform="translate(335.02 488.75) scale(0.9762 1)" font-size="25.00" font-weight="bold" fill="#000" stroke="#000" stroke-width="0.50" stroke-linejoin="round">-0.5</text>
<text transform="translate(154.21 509.00) scale(0.9980 1)" font-size="26.89" font-weight="bold" fill="#000" stroke="#000" stroke-width="0.50" stroke-linejoin="round"><tspan font-size="65%" dy="-0.62em">31</tspan><tspan dy="0.403em">P ppm</tspan></text>
<text transform="translate(65.05 637.83) scale(1.0056 1)" font-size="26.38" font-weight="normal" fill="#000" stroke="#000" stroke-width="0.35" stroke-linejoin="round">Bla g 1 loaded with DSPC</text>
<text transform="translate(311.75 756.25) scale(0.8640 1)" font-size="24.29" font-weight="bold" fill="#000" stroke="#000" stroke-width="0.50" stroke-linejoin="round">PC</text>
<text transform="translate(26.13 969.75) scale(0.8955 1)" font-size="25.07" font-weight="bold" fill="#000" stroke="#000" stroke-width="0.50" stroke-linejoin="round">1</text>
<text transform="translate(332.77 969.75) scale(0.9897 1)" font-size="24.71" font-weight="bold" fill="#000" stroke="#000" stroke-width="0.50" stroke-linejoin="round">-0.5</text>
<text transform="translate(151.72 989.25) scale(0.9874 1)" font-size="26.89" font-weight="bold" fill="#000" stroke="#000" stroke-width="0.50" stroke-linejoin="round"><tspan font-size="65%" dy="-0.62em">31</tspan><tspan dy="0.403em">P ppm</tspan></text>
<text transform="translate(520.92 94.25) scale(0.8272 1)" font-size="25.94" font-weight="bold" fill="#000" stroke="#000" stroke-width="0.50" stroke-linejoin="round">1</text>
<text transform="translate(493.74 274.95) scale(0.9780 1)" font-size="25.57" font-weight="bold" fill="#000" stroke="#000" stroke-width="0.50" stroke-linejoin="round">0.5</text>
<text transform="translate(519.79 454.05) scale(0.9186 1)" font-size="25.57" font-weight="bold" fill="#000" stroke="#000" stroke-width="0.50" stroke-linejoin="round">0</text>
<text transform="translate(596.27 477.05) scale(0.9488 1)" font-size="25.57" font-weight="bold" fill="#000" stroke="#000" stroke-width="0.50" stroke-linejoin="round">0.5</text>
<text transform="translate(874.25 477.05) scale(0.9706 1)" font-size="25.57" font-weight="bold" fill="#000" stroke="#000" stroke-width="0.50" stroke-linejoin="round">0.7</text>
<text transform="translate(725.46 517.25) scale(0.9980 1)" font-size="26.89" font-weight="bold" fill="#000" stroke="#000" stroke-width="0.50" stroke-linejoin="round"><tspan font-size="65%" dy="-0.62em">31</tspan><tspan dy="0.403em">P ppm</tspan></text>
<text transform="translate(474.35 315.73) rotate(-90) scale(0.9530 1)" font-size="28.05" font-weight="bold" fill="#000" stroke="#000" stroke-width="0.30" stroke-linejoin="round">Rel. Intensity</text>
<text transform="translate(578.83 276.39) rotate(-90) scale(0.8238 1)" font-size="26.53" font-weight="normal" fill="#000" stroke="#000" stroke-width="0.35" stroke-linejoin="round">[DSPC]</text>
<text transform="translate(613.10 106.15) scale(0.9782 1)" font-size="25.57" font-weight="normal" fill="#000" stroke="#000" stroke-width="0.20" stroke-linejoin="round">1000 µM</text>
<text transform="translate(616.75 186.25) scale(0.9643 1)" font-size="26.00" font-weight="normal" fill="#8a0c35">750 µ M</text>
<text transform="translate(617.00 258.75) scale(0.9358 1)" font-size="26.71" font-weight="normal" fill="#fb0007">500 µ M</text>
<text transform="translate(616.75 311.00) scale(0.9590 1)" font-size="26.14" font-weight="normal" fill="#ee6e6e">250 µ M</text>
<text transform="translate(617.00 357.50) scale(0.9563 1)" font-size="26.14" font-weight="normal" fill="#f98585">125 µ M</text>
<text transform="translate(520.74 583.92) scale(0.8346 1)" font-size="26.45" font-weight="bold" fill="#000" stroke="#000" stroke-width="0.15" stroke-linejoin="round">1</text>
<text transform="translate(493.56 764.62) scale(0.9692 1)" font-size="26.07" font-weight="bold" fill="#000" stroke="#000" stroke-width="0.15" stroke-linejoin="round">0.5</text>
<text transform="translate(519.51 944.32) scale(1.0239 1)" font-size="26.07" font-weight="bold" fill="#000" stroke="#000" stroke-width="0.15" stroke-linejoin="round">0</text>
<text transform="translate(539.05 966.22) scale(1.1064 1)" font-size="25.64" font-weight="bold" fill="#000" stroke="#000" stroke-width="0.15" stroke-linejoin="round">0</text>
<text transform="translate(643.26 966.22) scale(0.9252 1)" font-size="25.64" font-weight="bold" fill="#000" stroke="#000" stroke-width="0.15" stroke-linejoin="round">250</text>
<text transform="translate(759.94 966.22) scale(0.9447 1)" font-size="25.64" font-weight="bold" fill="#000" stroke="#000" stroke-width="0.15" stroke-linejoin="round">500</text>
<text transform="translate(877.38 966.22) scale(0.9164 1)" font-size="25.64" font-weight="bold" fill="#000" stroke="#000" stroke-width="0.15" stroke-linejoin="round">750</text>
<text transform="translate(986.62 966.22) scale(0.9447 1)" font-size="25.64" font-weight="bold" fill="#000" stroke="#000" stroke-width="0.15" stroke-linejoin="round">1000</text>
<text transform="translate(716.47 1001.95) scale(1.0126 1)" font-size="26.02" font-weight="bold" fill="#000" stroke="#000" stroke-width="0.10" stroke-linejoin="round">[DSPC] (µM)</text>
<text transform="translate(474.00 830.35) rotate(-90) scale(0.9371 1)" font-size="28.20" font-weight="bold" fill="#000">Rel. Intensity</text>
<text transform="translate(1096.82 60.05) scale(0.9060 1)" font-size="25.94" font-weight="bold" fill="#000" stroke="#000" stroke-width="0.50" stroke-linejoin="round">1</text>
<text transform="translate(1096.76 253.55) scale(0.9586 1)" font-size="25.57" font-weight="bold" fill="#000" stroke="#000" stroke-width="0.50" stroke-linejoin="round">0</text>
<text transform="translate(1088.83 446.05) scale(0.8497 1)" font-size="25.94" font-weight="bold" fill="#000" stroke="#000" stroke-width="0.50" stroke-linejoin="round">-1</text>
<text transform="translate(1115.24 482.85) scale(0.9672 1)" font-size="25.86" font-weight="bold" fill="#000" stroke="#000" stroke-width="0.50" stroke-linejoin="round">200</text>
<text transform="translate(1207.76 482.85) scale(0.9374 1)" font-size="25.86" font-weight="bold" fill="#000" stroke="#000" stroke-width="0.50" stroke-linejoin="round">210</text>
<text transform="translate(1299.99 482.85) scale(0.9720 1)" font-size="25.86" font-weight="bold" fill="#000" stroke="#000" stroke-width="0.50" stroke-linejoin="round">220</text>
<text transform="translate(1392.19 482.85) scale(0.9625 1)" font-size="25.86" font-weight="bold" fill="#000" stroke="#000" stroke-width="0.50" stroke-linejoin="round">230</text>
<text transform="translate(1484.75 482.85) scale(0.9553 1)" font-size="25.86" font-weight="bold" fill="#000" stroke="#000" stroke-width="0.50" stroke-linejoin="round">240</text>
<text transform="translate(1578.01 482.85) scale(0.9374 1)" font-size="25.86" font-weight="bold" fill="#000" stroke="#000" stroke-width="0.50" stroke-linejoin="round">250</text>
<text transform="translate(1265.50 510.75) scale(1.0085 1)" font-size="29.80" font-weight="bold" fill="#000" stroke="#000" stroke-width="0.50" stroke-linejoin="round">Wavelength (nm)</text>
<text transform="translate(1086.52 341.78) rotate(-90) scale(0.8632 1)" font-size="30.60" font-weight="bold" fill="#000" stroke="#000" stroke-width="0.15" stroke-linejoin="round">Normalized CD</text>
<text transform="translate(1197.26 84.75) scale(1.0568 1)" font-size="22.83" font-weight="normal" fill="#000" stroke="#000" stroke-width="0.50" stroke-linejoin="round">Apo</text>
<text transform="translate(1317.31 71.75) scale(1.0490 1)" font-size="23.26" font-weight="normal" fill="#000" stroke="#000" stroke-width="0.50" stroke-linejoin="round">Fatty Acid</text>
<text transform="translate(1335.12 103.50) scale(1.1161 1)" font-size="23.26" font-weight="normal" fill="#000" stroke="#000" stroke-width="0.50" stroke-linejoin="round">(nMix)</text>
<text transform="translate(1504.29 69.25) scale(1.0594 1)" font-size="23.26" font-weight="normal" fill="#000" stroke="#000" stroke-width="0.50" stroke-linejoin="round">Phospholipid</text>
<text transform="translate(1537.43 101.00) scale(0.9177 1)" font-size="23.55" font-weight="normal" fill="#000" stroke="#000" stroke-width="0.50" stroke-linejoin="round">(POPC)</text>
<text transform="translate(1111.42 600.05) scale(0.8272 1)" font-size="25.94" font-weight="bold" fill="#000" stroke="#000" stroke-width="0.50" stroke-linejoin="round">1</text>
<text transform="translate(1100.52 770.55) scale(0.9488 1)" font-size="25.57" font-weight="bold" fill="#000" stroke="#000" stroke-width="0.50" stroke-linejoin="round">0.5</text>
<text transform="translate(1110.56 950.75) scale(0.8987 1)" font-size="25.57" font-weight="bold" fill="#000" stroke="#000" stroke-width="0.50" stroke-linejoin="round">0</text>
<text transform="translate(1142.76 977.05) scale(0.9637 1)" font-size="25.43" font-weight="bold" fill="#000" stroke="#000" stroke-width="0.50" stroke-linejoin="round">0</text>
<text transform="translate(1245.75 977.05) scale(0.9760 1)" font-size="25.43" font-weight="bold" fill="#000" stroke="#000" stroke-width="0.50" stroke-linejoin="round">0.2</text>
<text transform="translate(1358.76 977.05) scale(0.9690 1)" font-size="25.43" font-weight="bold" fill="#000" stroke="#000" stroke-width="0.50" stroke-linejoin="round">0.4</text>
<text transform="translate(1472.01 977.05) scale(0.9612 1)" font-size="25.43" font-weight="bold" fill="#000" stroke="#000" stroke-width="0.50" stroke-linejoin="round">0.6</text>
<text transform="translate(1585.27 977.05) scale(0.9540 1)" font-size="25.43" font-weight="bold" fill="#000" stroke="#000" stroke-width="0.50" stroke-linejoin="round">0.8</text>
<text transform="translate(1338.52 1016.70) scale(0.9838 1)" font-size="27.33" font-weight="bold" fill="#000" stroke="#000" stroke-width="0.20" stroke-linejoin="round">Column Volume</text>
<text transform="translate(1081.30 844.89) rotate(-90) scale(0.9787 1)" font-size="27.62" font-weight="bold" fill="#000">Relative A<tspan font-size="65%" dy="0.2em">280</tspan></text>
<text transform="translate(1212.26 627.25) scale(1.0212 1)" font-size="23.91" font-weight="normal" fill="#000" stroke="#000" stroke-width="0.50" stroke-linejoin="round">Apo</text>
<text transform="translate(1329.28 610.05) scale(1.0300 1)" font-size="23.98" font-weight="normal" fill="#000" stroke="#000" stroke-width="0.50" stroke-linejoin="round">Fatty Acid</text>
<text transform="translate(1347.44 643.50) scale(1.1004 1)" font-size="23.98" font-weight="normal" fill="#000" stroke="#000" stroke-width="0.50" stroke-linejoin="round">(nMix)</text>
<text transform="translate(1553.61 613.25) scale(1.0187 1)" font-size="23.26" font-weight="normal" fill="#000" stroke="#000" stroke-width="0.50" stroke-linejoin="round">E.coli</text>
<text transform="translate(1518.59 644.75) scale(1.0159 1)" font-size="23.26" font-weight="normal" fill="#000" stroke="#000" stroke-width="0.50" stroke-linejoin="round">(No anneal)</text>
</g>
</svg>
</body>
</html>
